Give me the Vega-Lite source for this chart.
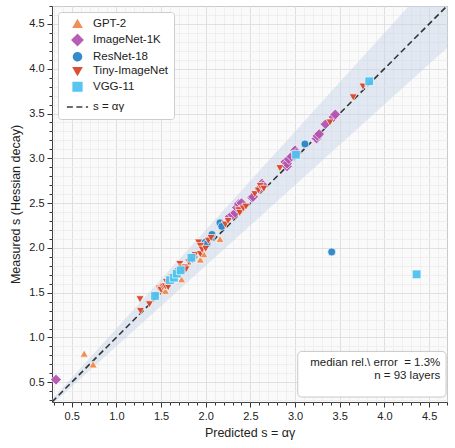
{
  "$schema": "https://vega.github.io/schema/vega-lite/v6.json",
  "width": 395,
  "height": 396,
  "autosize": {"type": "none"},
  "padding": {"left": 52, "top": 6, "right": 8, "bottom": 46},
  "config": {
    "font": "Liberation Sans",
    "view": {"stroke": "#444444", "strokeWidth": 1, "fill": "#fafafb"},
    "axis": {"labelFont": "Liberation Sans", "titleFont": "Liberation Sans", "labelColor": "#222222", "titleColor": "#222222", "titleFontWeight": "normal"},
    "legend": {
      "orient": "top-left", "offset": 6, "fillColor": "white", "strokeColor": "#cccccc",
      "cornerRadius": 3, "padding": 6, "symbolOffset": 2, "labelFont": "Liberation Sans", "labelFontSize": 11.5,
      "labelColor": "#222222", "rowPadding": 0.5, "labelOffset": 4, "symbolStrokeWidth": 1.5
    }
  },
  "datasets": {
    "band": [
      {"x": 0.28, "lo": 0.252, "hi": 0.308},
      {"x": 4.7, "lo": 4.23, "hi": 5.17}
    ],
    "diag": [
      {"x": 0.28, "y": 0.28},
      {"x": 4.7, "y": 4.7}
    ],
    "note": [
      {"x1": 3.03, "x2": 4.69, "y1": 0.335, "y2": 0.845}
    ],
    "noteText": [
      {"tx": 4.625, "ty": 0.72, "label": "median rel.\\ error\u00a0 = 1.3%"},
      {"tx": 4.625, "ty": 0.575, "label": "n = 93 layers"}
    ],
    "points": [
      {"pred": 0.64, "meas": 0.82, "model": "GPT-2"},
      {"pred": 0.74, "meas": 0.70, "model": "GPT-2"},
      {"pred": 1.55, "meas": 1.52, "model": "GPT-2"},
      {"pred": 1.73, "meas": 1.65, "model": "GPT-2"},
      {"pred": 1.94, "meas": 1.87, "model": "GPT-2"},
      {"pred": 1.98, "meas": 1.93, "model": "GPT-2"},
      {"pred": 2.16, "meas": 2.10, "model": "GPT-2"},

      {"pred": 0.325, "meas": 0.53, "model": "ImageNet-1K"},
      {"pred": 2.27, "meas": 2.35, "model": "ImageNet-1K"},
      {"pred": 2.30, "meas": 2.37, "model": "ImageNet-1K"},
      {"pred": 2.33, "meas": 2.39, "model": "ImageNet-1K"},
      {"pred": 2.35, "meas": 2.45, "model": "ImageNet-1K"},
      {"pred": 2.37, "meas": 2.49, "model": "ImageNet-1K"},
      {"pred": 2.52, "meas": 2.56, "model": "ImageNet-1K"},
      {"pred": 2.53, "meas": 2.57, "model": "ImageNet-1K"},
      {"pred": 2.60, "meas": 2.66, "model": "ImageNet-1K"},
      {"pred": 2.63, "meas": 2.72, "model": "ImageNet-1K"},
      {"pred": 2.64, "meas": 2.70, "model": "ImageNet-1K"},
      {"pred": 2.89, "meas": 2.96, "model": "ImageNet-1K"},
      {"pred": 2.91, "meas": 2.91, "model": "ImageNet-1K"},
      {"pred": 2.91, "meas": 2.94, "model": "ImageNet-1K"},
      {"pred": 2.93, "meas": 2.99, "model": "ImageNet-1K"},
      {"pred": 2.96, "meas": 3.02, "model": "ImageNet-1K"},
      {"pred": 3.00, "meas": 3.09, "model": "ImageNet-1K"},
      {"pred": 3.02, "meas": 3.06, "model": "ImageNet-1K"},
      {"pred": 3.24, "meas": 3.22, "model": "ImageNet-1K"},
      {"pred": 3.25, "meas": 3.25, "model": "ImageNet-1K"},
      {"pred": 3.27, "meas": 3.27, "model": "ImageNet-1K"},
      {"pred": 3.34, "meas": 3.38, "model": "ImageNet-1K"},
      {"pred": 3.43, "meas": 3.46, "model": "ImageNet-1K"},
      {"pred": 3.45, "meas": 3.49, "model": "ImageNet-1K"},
      {"pred": 2.40, "meas": 2.50, "model": "ImageNet-1K"},

      {"pred": 1.99, "meas": 2.06, "model": "ResNet-18"},
      {"pred": 2.01, "meas": 2.04, "model": "ResNet-18"},
      {"pred": 2.06, "meas": 2.12, "model": "ResNet-18"},
      {"pred": 2.07, "meas": 2.15, "model": "ResNet-18"},
      {"pred": 2.16, "meas": 2.28, "model": "ResNet-18"},
      {"pred": 2.18, "meas": 2.24, "model": "ResNet-18"},
      {"pred": 3.11, "meas": 3.16, "model": "ResNet-18"},
      {"pred": 3.41, "meas": 1.955, "model": "ResNet-18"},

      {"pred": 1.265, "meas": 1.427, "model": "Tiny-ImageNet"},
      {"pred": 1.27, "meas": 1.296, "model": "Tiny-ImageNet"},
      {"pred": 1.37, "meas": 1.37, "model": "Tiny-ImageNet"},
      {"pred": 1.45, "meas": 1.47, "model": "Tiny-ImageNet"},
      {"pred": 1.48, "meas": 1.545, "model": "Tiny-ImageNet"},
      {"pred": 1.50, "meas": 1.53, "model": "Tiny-ImageNet"},
      {"pred": 1.52, "meas": 1.56, "model": "Tiny-ImageNet"},
      {"pred": 1.53, "meas": 1.575, "model": "Tiny-ImageNet"},
      {"pred": 1.55, "meas": 1.57, "model": "Tiny-ImageNet"},
      {"pred": 1.56, "meas": 1.62, "model": "Tiny-ImageNet"},
      {"pred": 1.58, "meas": 1.56, "model": "Tiny-ImageNet"},
      {"pred": 1.61, "meas": 1.65, "model": "Tiny-ImageNet"},
      {"pred": 1.62, "meas": 1.67, "model": "Tiny-ImageNet"},
      {"pred": 1.64, "meas": 1.63, "model": "Tiny-ImageNet"},
      {"pred": 1.67, "meas": 1.70, "model": "Tiny-ImageNet"},
      {"pred": 1.69, "meas": 1.74, "model": "Tiny-ImageNet"},
      {"pred": 1.71, "meas": 1.82, "model": "Tiny-ImageNet"},
      {"pred": 1.73, "meas": 1.78, "model": "Tiny-ImageNet"},
      {"pred": 1.77, "meas": 1.78, "model": "Tiny-ImageNet"},
      {"pred": 1.78, "meas": 1.76, "model": "Tiny-ImageNet"},
      {"pred": 1.81, "meas": 1.84, "model": "Tiny-ImageNet"},
      {"pred": 1.85, "meas": 1.86, "model": "Tiny-ImageNet"},
      {"pred": 1.88, "meas": 1.92, "model": "Tiny-ImageNet"},
      {"pred": 1.92, "meas": 2.06, "model": "Tiny-ImageNet"},
      {"pred": 1.94, "meas": 1.93, "model": "Tiny-ImageNet"},
      {"pred": 1.94, "meas": 2.02, "model": "Tiny-ImageNet"},
      {"pred": 1.96, "meas": 1.98, "model": "Tiny-ImageNet"},
      {"pred": 2.00, "meas": 1.99, "model": "Tiny-ImageNet"},
      {"pred": 2.03, "meas": 2.08, "model": "Tiny-ImageNet"},
      {"pred": 2.06, "meas": 2.11, "model": "Tiny-ImageNet"},
      {"pred": 2.22, "meas": 2.26, "model": "Tiny-ImageNet"},
      {"pred": 2.25, "meas": 2.30, "model": "Tiny-ImageNet"},
      {"pred": 2.37, "meas": 2.42, "model": "Tiny-ImageNet"},
      {"pred": 2.38, "meas": 2.39, "model": "Tiny-ImageNet"},
      {"pred": 2.42, "meas": 2.44, "model": "Tiny-ImageNet"},
      {"pred": 2.45, "meas": 2.46, "model": "Tiny-ImageNet"},
      {"pred": 2.55, "meas": 2.60, "model": "Tiny-ImageNet"},
      {"pred": 2.59, "meas": 2.64, "model": "Tiny-ImageNet"},
      {"pred": 2.61, "meas": 2.69, "model": "Tiny-ImageNet"},
      {"pred": 2.65, "meas": 2.66, "model": "Tiny-ImageNet"},
      {"pred": 2.83, "meas": 2.89, "model": "Tiny-ImageNet"},
      {"pred": 3.39, "meas": 3.40, "model": "Tiny-ImageNet"},
      {"pred": 3.65, "meas": 3.68, "model": "Tiny-ImageNet"},
      {"pred": 3.76, "meas": 3.80, "model": "Tiny-ImageNet"},

      {"pred": 1.433, "meas": 1.463, "model": "VGG-11"},
      {"pred": 1.60, "meas": 1.64, "model": "VGG-11"},
      {"pred": 1.645, "meas": 1.668, "model": "VGG-11"},
      {"pred": 1.676, "meas": 1.713, "model": "VGG-11"},
      {"pred": 1.72, "meas": 1.75, "model": "VGG-11"},
      {"pred": 1.84, "meas": 1.89, "model": "VGG-11"},
      {"pred": 3.01, "meas": 3.04, "model": "VGG-11"},
      {"pred": 3.83, "meas": 3.86, "model": "VGG-11"},
      {"pred": 4.36, "meas": 1.705, "model": "VGG-11"}
    ]
  },
  "layer": [
    {
      "data": {"name": "band"},
      "mark": {"type": "area", "clip": true, "color": "#c5d3e4", "opacity": 0.45},
      "encoding": {
        "x": {
          "field": "x", "type": "quantitative",
          "scale": {"domain": [0.28, 4.7], "nice": false, "zero": false},
          "axis": {
            "orient": "bottom", "title": null, "labels": false, "domain": false,
            "values": [0.3,0.4,0.6,0.7,0.8,0.9,1.1,1.2,1.3,1.4,1.6,1.7,1.8,1.9,2.1,2.2,2.3,2.4,2.6,2.7,2.8,2.9,3.1,3.2,3.3,3.4,3.6,3.7,3.8,3.9,4.1,4.2,4.3,4.4,4.6,4.7],
            "tickSize": 3, "tickColor": "#333333", "grid": true, "gridColor": "#ececee", "gridWidth": 0.8
          }
        },
        "y": {
          "field": "lo", "type": "quantitative",
          "scale": {"domain": [0.28, 4.7], "nice": false, "zero": false},
          "axis": {
            "orient": "left", "title": null, "labels": false, "domain": false,
            "values": [0.3,0.4,0.6,0.7,0.8,0.9,1.1,1.2,1.3,1.4,1.6,1.7,1.8,1.9,2.1,2.2,2.3,2.4,2.6,2.7,2.8,2.9,3.1,3.2,3.3,3.4,3.6,3.7,3.8,3.9,4.1,4.2,4.3,4.4,4.6,4.7],
            "tickSize": 3, "tickColor": "#333333", "grid": true, "gridColor": "#ececee", "gridWidth": 0.8
          }
        },
        "y2": {"field": "hi"}
      }
    },
    {
      "data": {"name": "diag"},
      "mark": {"type": "line", "clip": true, "strokeWidth": 1.6},
      "encoding": {
        "x": {"field": "x", "type": "quantitative", "axis": null},
        "y": {"field": "y", "type": "quantitative", "axis": null},
        "color": {"datum": "s = αγ", "type": "nominal", "legend": {"title": null}},
        "strokeDash": {
          "datum": "s = αγ", "type": "nominal",
          "scale": {
            "domain": ["GPT-2", "ImageNet-1K", "ResNet-18", "Tiny-ImageNet", "VGG-11", "s = αγ"],
            "range": [[1, 0], [1, 0], [1, 0], [1, 0], [1, 0], [6, 3.5]]
          },
          "legend": {"title": null}
        }
      }
    },
    {
      "data": {"name": "points"},
      "mark": {"type": "point", "filled": true, "opacity": 0.95, "stroke": "white", "strokeWidth": 0.7},
      "encoding": {
        "x": {
          "field": "pred", "type": "quantitative",
          "axis": {
            "orient": "bottom", "title": "Predicted s = αγ", "titleFontSize": 12.5, "titlePadding": 5,
            "values": [0.5, 1, 1.5, 2, 2.5, 3, 3.5, 4, 4.5], "format": ".1f",
            "labelFontSize": 11, "labelPadding": 3, "domain": false,
            "tickSize": 5, "tickColor": "#333333", "grid": true, "gridColor": "#dcdcdf", "gridWidth": 0.9
          }
        },
        "y": {
          "field": "meas", "type": "quantitative",
          "axis": {
            "orient": "left", "title": "Measured s (Hessian decay)", "titleFontSize": 12.5, "titlePadding": 6,
            "values": [0.5, 1, 1.5, 2, 2.5, 3, 3.5, 4, 4.5], "format": ".1f",
            "labelFontSize": 11, "labelPadding": 3, "domain": false,
            "tickSize": 5, "tickColor": "#333333", "grid": true, "gridColor": "#dcdcdf", "gridWidth": 0.9
          }
        },
        "size": {
          "field": "model", "type": "nominal",
          "scale": {
            "type": "ordinal",
            "domain": ["GPT-2", "ImageNet-1K", "ResNet-18", "Tiny-ImageNet", "VGG-11", "s = αγ"],
            "range": [66, 115, 64, 66, 76, 450]
          },
          "legend": {"title": null}
        },
        "color": {
          "field": "model", "type": "nominal",
          "scale": {
            "domain": ["GPT-2", "ImageNet-1K", "ResNet-18", "Tiny-ImageNet", "VGG-11", "s = αγ"],
            "range": ["#f2894c", "#b455b0", "#2a86c8", "#d8472a", "#4fc3f0", "#333333"]
          },
          "legend": {"title": null}
        },
        "shape": {
          "field": "model", "type": "nominal",
          "scale": {
            "domain": ["GPT-2", "ImageNet-1K", "ResNet-18", "Tiny-ImageNet", "VGG-11", "s = αγ"],
            "range": ["triangle-up", "diamond", "circle", "triangle-down", "square", "stroke"]
          },
          "legend": {"title": null}
        }
      }
    },
    {
      "data": {"name": "note"},
      "mark": {"type": "rect", "fill": "white", "stroke": "#c8c8c8", "strokeWidth": 1, "cornerRadius": 4},
      "encoding": {
        "x": {"field": "x1", "type": "quantitative", "axis": null},
        "x2": {"field": "x2"},
        "y": {"field": "y1", "type": "quantitative", "axis": null},
        "y2": {"field": "y2"}
      }
    },
    {
      "data": {"name": "noteText"},
      "mark": {"type": "text", "align": "right", "baseline": "middle", "fontSize": 11.5, "color": "#222222", "font": "Liberation Sans"},
      "encoding": {
        "x": {"field": "tx", "type": "quantitative", "axis": null},
        "y": {"field": "ty", "type": "quantitative", "axis": null},
        "text": {"field": "label"}
      }
    }
  ],
  "resolve": {"axis": {"x": "independent", "y": "independent"}}
}
